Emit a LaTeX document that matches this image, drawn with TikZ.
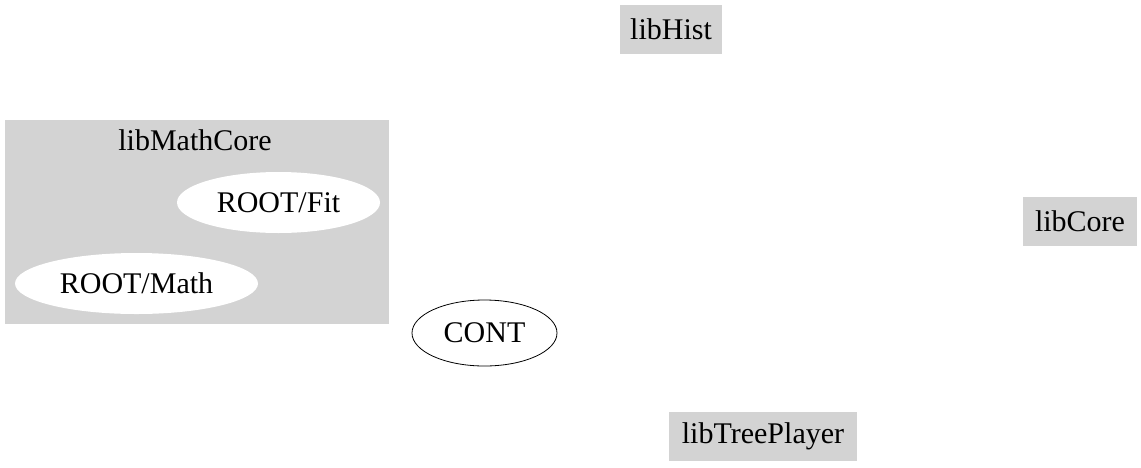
\documentclass[tikz,border=0pt]{standalone}
\usepackage{fontspec}
\setmainfont{Liberation Serif}
\usetikzlibrary{shapes.geometric,positioning}
\definecolor{libgray}{HTML}{D3D3D3}

\begin{document}
\begin{tikzpicture}[x=0.5pt, y=-0.5pt,
   every node/.style={font=\fontsize{15}{18}\selectfont},
   lib/.style={rectangle, fill=libgray, inner sep=0, minimum height=24.5pt},
   dir/.style={ellipse, fill=white, inner sep=0, minimum height=30.5pt},
   cluster/.style={rectangle, fill=libgray, inner sep=0}]
   \useasboundingbox (0,0) rectangle (1141,467);

   \node (mathcore) at (197,222) [cluster, minimum width=192pt, minimum height=102pt] {};
   \node (mathcoretitle) at (195,140) {libMathCore};
   \node (fit) at (278.5,202.5) [dir, minimum width=101.5pt] {ROOT/Fit};
   \node (math) at (136.5,283.5) [dir, minimum width=121.5pt] {ROOT/Math};

   \node (cont) at (484.5,333) [draw, ellipse, inner sep=0, minimum width=72.5pt, minimum height=33pt] {CONT};

   \node (hist) at (671,29) [lib, minimum width=51pt] {libHist};
   \node (core) at (1080,221.5) [lib, minimum width=57pt] {libCore};
   \node (treeplayer) at (763,436.5) [lib, minimum width=94pt] {libTreePlayer};

\end{tikzpicture}
\end{document}
